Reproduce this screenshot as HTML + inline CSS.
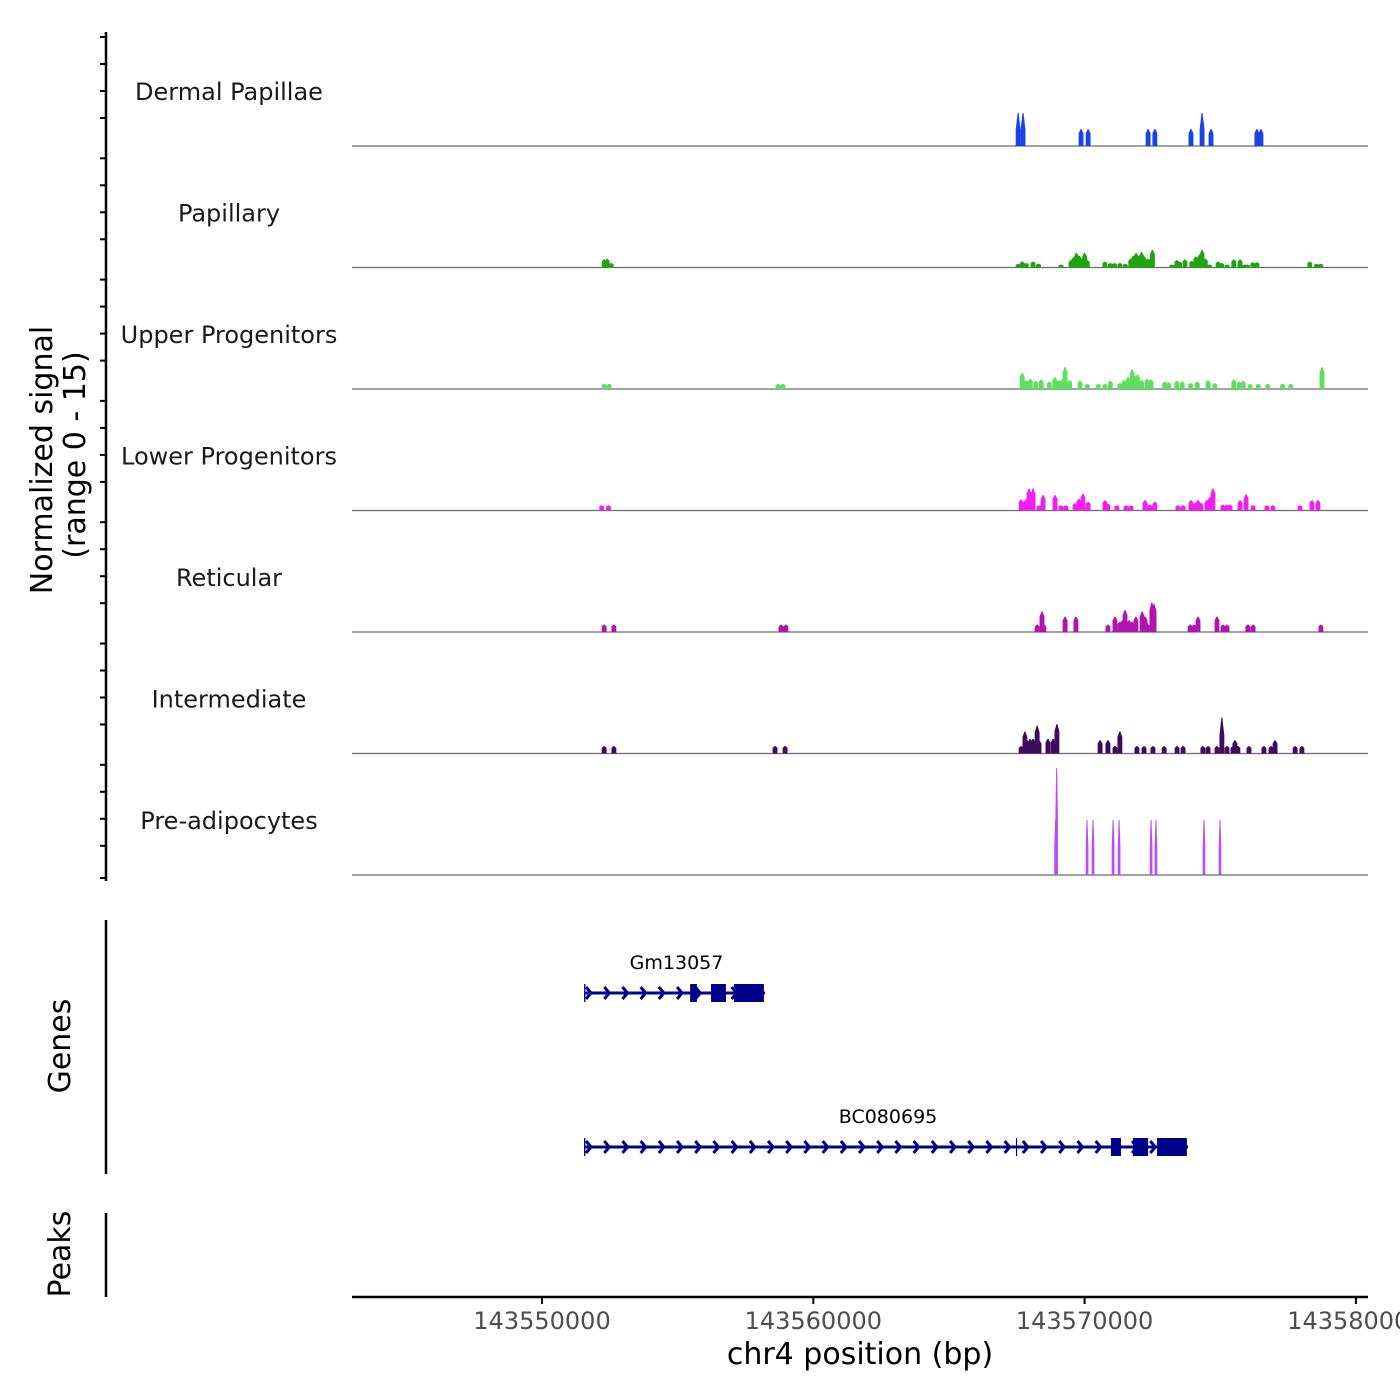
<!DOCTYPE html>
<html><head><meta charset="utf-8">
<style>
html,body{margin:0;padding:0;background:#fff;}
svg{display:block;font-family:"DejaVu Sans","Liberation Sans",sans-serif;}
</style></head>
<body>
<svg id="chart" width="1400" height="1400" viewBox="0 0 1400 1400" xmlns="http://www.w3.org/2000/svg">
<g id="tracks"></g>
<g id="genes"></g>
<line x1="106" y1="32" x2="106" y2="881" stroke="#000" stroke-width="2.5"/>
<g id="yticks"></g>
<text transform="translate(52,460) rotate(-90)" text-anchor="middle" font-size="30" fill="#000">Normalized signal</text>
<text transform="translate(85,455) rotate(-90)" text-anchor="middle" font-size="30" fill="#000">(range 0 - 15)</text>
<line x1="106" y1="920" x2="106" y2="1174" stroke="#000" stroke-width="2.5"/>
<text transform="translate(70,1046) rotate(-90)" text-anchor="middle" font-size="30" fill="#000">Genes</text>
<line x1="106" y1="1213" x2="106" y2="1297" stroke="#000" stroke-width="2.5"/>
<text transform="translate(70,1254) rotate(-90)" text-anchor="middle" font-size="30" fill="#000">Peaks</text>
<line x1="352" y1="1297" x2="1368" y2="1297" stroke="#000" stroke-width="2.5"/>
<g id="xticks"></g>
<text x="860" y="1364" text-anchor="middle" font-size="30" fill="#000">chr4 position (bp)</text>
</svg>
<script>
const trackNames = ["Dermal Papillae","Papillary","Upper Progenitors","Lower Progenitors","Reticular","Intermediate","Pre-adipocytes"];
const trackColors = ["#1a44e6","#1ea50f","#5ee05e","#f21ef2","#b015b0","#3e0b5e","#bb4ff7"];
const xTicks = [143550000,143560000,143570000,143580000];
const xTickLabels = ["143550000","143560000","143570000","143580000"];
// positions in kb, values in normalized signal (0-15)
const dermalPos = [143567.55,143567.73,143569.87,143570.13,143572.34,143572.59,143573.92,143574.33,143574.66,143576.35,143576.50];
const dermalVal = [4.5,4.5,2.3,2.3,2.3,2.3,2.3,4.5,2.3,2.3,2.3];
const papillaryPos = [143552.29,143552.40,143552.55,143567.55,143567.70,143567.85,143568.10,143568.30,143569.13,143569.50,143569.60,143569.70,143569.80,143569.90,143570.00,143570.10,143570.75,143570.95,143571.10,143571.30,143571.50,143571.70,143571.80,143571.90,143572.00,143572.10,143572.20,143572.35,143572.50,143573.22,143573.40,143573.50,143573.70,143573.95,143574.10,143574.25,143574.33,143574.45,143574.60,143574.92,143575.05,143575.25,143575.50,143575.73,143575.90,143576.00,143576.20,143576.35,143578.30,143578.55,143578.70];
const papillaryVal = [1.1,1.2,0.6,0.5,0.8,0.6,0.8,0.5,0.4,1.0,1.4,2.0,1.6,1.2,2.0,1.0,0.8,0.6,0.6,0.6,0.5,1.2,1.6,2.0,1.6,2.1,1.5,1.2,2.4,0.4,1.0,0.8,1.1,0.9,1.5,1.8,2.4,1.2,0.4,0.8,0.6,0.4,1.1,1.1,0.4,0.4,0.7,0.7,0.8,0.5,0.5];
const upperPos = [143552.29,143552.47,143558.70,143558.88,143567.70,143567.85,143568.00,143568.20,143568.40,143568.70,143568.90,143569.05,143569.20,143569.28,143569.45,143569.83,143570.10,143570.50,143570.75,143570.95,143571.30,143571.45,143571.60,143571.75,143571.85,143571.95,143572.10,143572.30,143572.45,143572.95,143573.10,143573.40,143573.60,143573.90,143574.15,143574.55,143574.80,143575.50,143575.70,143575.85,143576.10,143576.40,143576.75,143577.30,143577.60,143578.75];
const upperVal = [0.7,0.7,0.7,0.7,2.2,1.2,1.4,1.1,1.3,1.0,1.6,1.2,1.4,3.0,1.2,1.1,0.7,0.7,0.7,1.1,0.8,1.2,1.6,2.7,1.8,2.0,1.2,1.4,1.3,1.0,0.9,1.1,1.0,0.8,1.0,1.2,0.8,1.3,1.0,1.1,0.7,0.7,0.7,0.7,0.7,3.0];
const lowerPos = [143552.20,143552.45,143567.66,143567.84,143567.95,143568.10,143568.32,143568.47,143568.91,143569.13,143569.31,143569.65,143569.79,143569.94,143570.13,143570.75,143570.86,143571.19,143571.53,143571.71,143572.23,143572.41,143572.59,143573.44,143573.63,143573.92,143574.07,143574.18,143574.29,143574.51,143574.62,143574.73,143575.10,143575.25,143575.36,143575.73,143575.95,143576.21,143576.72,143576.94,143577.94,143578.38,143578.60];
const lowerVal = [0.7,0.7,1.5,1.5,3.0,3.0,0.7,2.1,2.1,0.7,0.7,1.0,1.6,2.3,1.2,1.4,0.9,0.7,0.7,0.7,1.4,0.8,1.2,0.7,0.7,1.4,1.0,1.4,1.0,1.4,1.8,3.0,0.8,0.8,0.8,1.4,2.2,0.7,0.7,0.7,0.7,1.4,1.4];
const reticularPos = [143552.29,143552.65,143558.81,143558.99,143568.25,143568.43,143568.50,143569.28,143569.68,143570.86,143571.12,143571.30,143571.40,143571.49,143571.64,143571.75,143571.89,143572.12,143572.23,143572.30,143572.48,143572.56,143573.89,143574.03,143574.18,143574.88,143575.10,143575.25,143576.02,143576.21,143578.71];
const reticularVal = [1.0,1.0,1.0,1.0,1.0,2.8,1.0,2.1,2.1,1.0,2.1,1.4,1.6,3.0,1.6,1.4,2.1,2.8,2.1,1.2,4.0,3.8,1.0,1.0,2.1,2.1,1.0,1.0,1.0,1.0,1.0];
const intermediatePos = [143552.29,143552.65,143558.59,143558.96,143567.66,143567.80,143567.88,143567.99,143568.10,143568.25,143568.32,143568.65,143568.84,143568.98,143570.57,143570.86,143571.12,143571.30,143571.93,143572.19,143572.52,143572.93,143573.41,143573.63,143574.36,143574.55,143574.88,143575.06,143575.25,143575.47,143575.54,143575.65,143576.06,143576.61,143576.87,143577.02,143577.76,143578.01];
const intermediateVal = [1.0,1.0,1.0,1.0,1.0,3.0,1.8,2.0,2.0,3.8,1.8,2.0,2.0,4.0,1.8,1.8,1.0,3.0,1.0,1.0,1.0,1.0,1.0,1.0,1.0,1.0,1.0,4.9,1.0,1.0,1.8,1.0,1.0,1.0,1.0,1.8,1.0,1.0];
const preadipPos = [143568.93,143568.97,143570.09,143570.31,143571.05,143571.27,143572.45,143572.63,143574.40,143574.99];
const preadipVal = [7.5,14.6,7.5,7.5,7.5,7.5,7.5,7.5,7.5,7.5];
const trackPos = [dermalPos,papillaryPos,upperPos,lowerPos,reticularPos,intermediatePos,preadipPos];
const trackVal = [dermalVal,papillaryVal,upperVal,lowerVal,reticularVal,intermediateVal,preadipVal];
const geneNames = ["Gm13057","BC080695"];
const geneStart = [143551.55,143551.55];
const geneEnd = [143558.22,143573.81];
const geneExonStart = [[143551.55,143555.46,143556.23,143557.08],[143551.55,143567.47,143570.97,143571.78,143572.67]];
const geneExonEnd = [[143551.60,143555.71,143556.78,143558.18],[143551.60,143567.50,143571.34,143572.34,143573.77]];

const NS = "http://www.w3.org/2000/svg";
function xs(kb){ return 542 + (kb - 143550) * 27.13; }
const yUnit = 7.33;
function baseY(i){ return 146 + 121.5 * i; }
function mk(tag, attrs, parent){ const e = document.createElementNS(NS, tag); for (const k in attrs) e.setAttribute(k, attrs[k]); parent.appendChild(e); return e; }

const tg = document.getElementById('tracks');
for (let i = 0; i < trackNames.length; i++) {
  const b = baseY(i);
  const g = mk('g', {}, tg);
  
  
  const lab = mk('text', {x: 229, y: b - 46, 'text-anchor': 'middle', 'font-size': 24, fill: '#1a1a1a'}, g);
  lab.textContent = trackNames[i];
  
  
  const base = mk('line', {x1: 352, x2: 1368, y1: b, y2: b, stroke: '#6b6b6b', 'stroke-width': 1.3}, g);
  
  
  const pos = trackPos[i], val = trackVal[i];
  const hw = i === 6 ? 0.05 : 0.09;
  for (let j = 0; j < pos.length; j++) {
    const x0 = xs(pos[j] - hw), x1 = xs(pos[j] + hw), xm = xs(pos[j]);
    const top = b - Math.min(val[j], 15) * yUnit;
    const shoulder = b - Math.min(val[j], 15) * yUnit * (val[j] > 4 ? 0.5 : 0.75);
    const p = mk('polygon', {points: `${x0},${b} ${x0},${shoulder} ${xm-0.5},${top} ${xm+0.5},${top} ${x1},${shoulder} ${x1},${b}`, fill: trackColors[i]}, g);
    
    
  }
}

// y ticks
const ytg = document.getElementById('yticks');
for (let i = 0; i < 7; i++) {
  for (let k = 0; k < 4; k++) {
    const y = 37 + 121.3 * i + k * 27;
    if (y > 880) continue;
    const t = mk('line', {x1: 100, x2: 106, y1: y, y2: y, stroke: '#000', 'stroke-width': 2}, ytg);
    
    
  }
}
const lastTick = mk('line', {x1: 100, x2: 106, y1: 878, y2: 878, stroke: '#000', 'stroke-width': 2}, ytg);



// genes
const gg = document.getElementById('genes');
const geneY = [993, 1147];
for (let i = 0; i < geneNames.length; i++) {
  const y = geneY[i];
  const g = mk('g', {}, gg);
  
  
  const xa = xs(geneStart[i]), xb = xs(geneEnd[i]);
  const lbl = mk('text', {x: (xa + xb) / 2 + (i === 1 ? 2 : 2), y: y - 24, 'text-anchor': 'middle', 'font-size': 19, fill: '#000'}, g);
  lbl.textContent = geneNames[i];
  
  
  const ln = mk('line', {x1: xa, x2: xb, y1: y, y2: y, stroke: '#00008b', 'stroke-width': 3}, g);
  
  
  for (let x = xa + 2; x < xb - 4; x += 18.2) {
    const ch = mk('polyline', {points: `${x},${y-6} ${x+5},${y} ${x},${y+6}`, fill: 'none', stroke: '#00008b', 'stroke-width': 3}, g);
    
    
  }
  for (let e = 0; e < geneExonStart[i].length; e++) {
    const ex0 = xs(geneExonStart[i][e]), ex1 = xs(geneExonEnd[i][e]);
    const r = mk('rect', {x: ex0, y: y - 9, width: Math.max(ex1 - ex0, 1.2), height: 18, fill: '#00008b'}, g);
    
    
  }
}

// x ticks
const xg = document.getElementById('xticks');
for (let i = 0; i < xTicks.length; i++) {
  const x = xs(xTicks[i] / 1000);
  const t = mk('line', {x1: x, x2: x, y1: 1297, y2: 1304, stroke: '#000', 'stroke-width': 2}, xg);
  
  
  const l = mk('text', {x: x, y: 1329, 'text-anchor': 'middle', 'font-size': 24, fill: '#4d4d4d'}, xg);
  l.textContent = xTickLabels[i];
  
  
}
</script>
</body></html>
